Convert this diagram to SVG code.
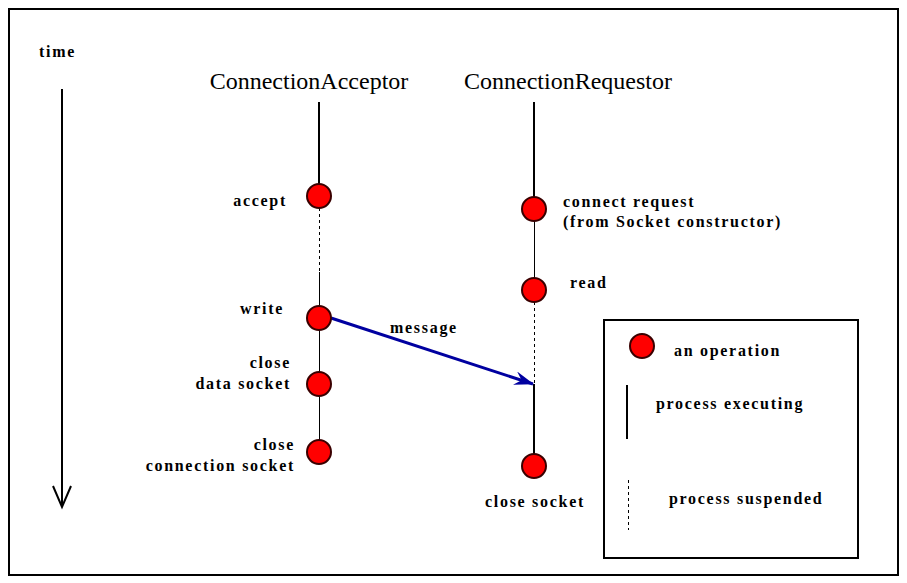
<svg xmlns="http://www.w3.org/2000/svg" width="907" height="583" viewBox="0 0 907 583">
<style>
.lbl{font-family:"Liberation Serif",serif;font-weight:bold;font-size:16px;letter-spacing:1.7px;fill:#000}
.ttl{font-family:"Liberation Serif",serif;font-size:24px;fill:#000}
.op{fill:#ff0000;stroke:#3a0000;stroke-width:2}
.exe{stroke:#000;stroke-width:2}
.thin{stroke:#000;stroke-width:1}
.sus{stroke:#000;stroke-width:1;stroke-dasharray:3,3}
</style>
<defs>
<marker id="ah" viewBox="0 0 20 14" refX="19" refY="7" markerWidth="20" markerHeight="14" markerUnits="userSpaceOnUse" orient="auto">
<path d="M0,0 L20,7 L0,14 L7,7 Z" fill="#0000a0"/>
</marker>
</defs>
<rect x="0" y="0" width="907" height="583" fill="#fff"/>
<rect x="9" y="9" width="889" height="566" fill="none" stroke="#000" stroke-width="2"/>
<g id="time">
<text class="lbl" x="39" y="57">time</text>
<line class="exe" x1="62" y1="89" x2="62" y2="506"/>
<polyline points="53,486 62,507 71,486" fill="none" stroke="#000" stroke-width="2"/>
</g>
<g id="acceptor">
<text class="ttl" x="309" y="89" text-anchor="middle">ConnectionAcceptor</text>
<line class="exe" x1="319" y1="102" x2="319" y2="186"/>
<line class="sus" x1="319.5" y1="208" x2="319.5" y2="272"/>
<line class="thin" x1="319.5" y1="272" x2="319.5" y2="308"/>
<line class="thin" x1="319.5" y1="328" x2="319.5" y2="374"/>
<line class="thin" x1="319.5" y1="394" x2="319.5" y2="442"/>
</g>
<g id="requestor">
<text class="ttl" x="568" y="89" text-anchor="middle">ConnectionRequestor</text>
<line class="exe" x1="534" y1="102" x2="534" y2="199"/>
<line class="thin" x1="534.5" y1="219" x2="534.5" y2="280"/>
<line class="sus" x1="534.5" y1="302" x2="534.5" y2="384"/>
<line class="exe" x1="534" y1="384" x2="534" y2="456"/>
</g>
<g id="connectors">
<line x1="331" y1="318" x2="533" y2="384" stroke="#0000a0" stroke-width="3" marker-end="url(#ah)"/>
<text class="lbl" x="390" y="333">message</text>
</g>
<g id="op-accept"><circle class="op" cx="319" cy="196" r="12"/><text class="lbl" x="287" y="206" text-anchor="end">accept</text></g>
<g id="op-write"><circle class="op" cx="319" cy="318" r="12"/><text class="lbl" x="284" y="314" text-anchor="end">write</text></g>
<g id="op-close-data"><circle class="op" cx="319" cy="384" r="12"/><text class="lbl" x="291" y="368" text-anchor="end">close</text><text class="lbl" x="291" y="389" text-anchor="end">data socket</text></g>
<g id="op-close-conn"><circle class="op" cx="319" cy="452" r="12"/><text class="lbl" x="295" y="450" text-anchor="end">close</text><text class="lbl" x="295" y="471" text-anchor="end">connection socket</text></g>
<g id="op-connect"><circle class="op" cx="534" cy="209" r="12"/><text class="lbl" x="563" y="207">connect request</text><text class="lbl" x="563" y="227">(from Socket constructor)</text></g>
<g id="op-read"><circle class="op" cx="534" cy="290" r="12"/><text class="lbl" x="570" y="288">read</text></g>
<g id="op-close-socket"><circle class="op" cx="534" cy="466" r="12"/><text class="lbl" x="535" y="507" text-anchor="middle">close socket</text></g>
<g id="legend">
<rect x="604" y="320" width="254" height="238" fill="none" stroke="#000" stroke-width="2"/>
<circle class="op" cx="642" cy="346" r="12"/>
<text class="lbl" x="674" y="356">an operation</text>
<line class="exe" x1="627" y1="385" x2="627" y2="439"/>
<text class="lbl" x="656" y="409">process executing</text>
<line class="sus" x1="628.5" y1="480" x2="628.5" y2="530"/>
<text class="lbl" x="669" y="504">process suspended</text>
</g>
</svg>
